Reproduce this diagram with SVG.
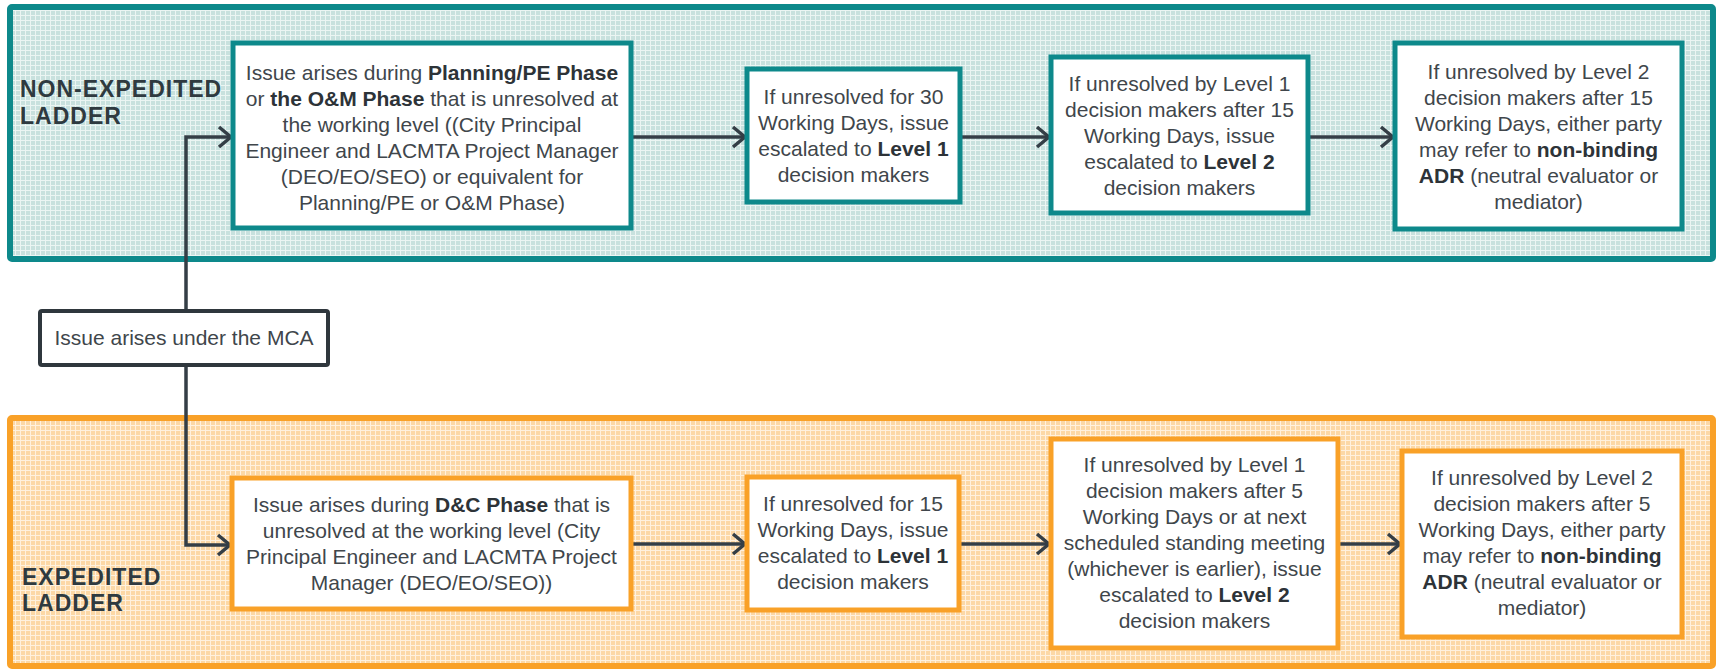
<svg xmlns="http://www.w3.org/2000/svg" width="1716" height="669" viewBox="0 0 1716 669">
<defs>
<pattern id="tealTex" width="5" height="5" patternUnits="userSpaceOnUse"><rect width="5" height="5" fill="#c8e1de"/><path d="M0,0.5H5M0.5,0V5" stroke="#ebf5f3" stroke-width="1"/></pattern>
<pattern id="orangeTex" width="5" height="5" patternUnits="userSpaceOnUse"><rect width="5" height="5" fill="#fcd8a6"/><path d="M0,0.5H5M0.5,0V5" stroke="#fff1de" stroke-width="1"/></pattern>
<marker id="arr" markerUnits="userSpaceOnUse" markerWidth="16" markerHeight="24" viewBox="0 0 16 24" refX="14" refY="12" orient="auto"><path d="M2,2 L14,12 L2,22" fill="none" stroke="#343e46" stroke-width="3.5" stroke-linejoin="miter"/></marker>
<style>
.panelT{fill:url(#tealTex);stroke:#0d898b;stroke-width:6}
.panelO{fill:url(#orangeTex);stroke:#f9a128;stroke-width:6}
.boxT{fill:#ffffff;stroke:#0d898b;stroke-width:5}
.boxO{fill:#ffffff;stroke:#f9a128;stroke-width:5}
.boxM{fill:#ffffff;stroke:#2f373d;stroke-width:4}
.t{font-family:"Liberation Sans",Arial,sans-serif;font-size:21px;fill:#40464b;text-anchor:middle}
.b{font-weight:bold;fill:#2d3338}
.lbl{font-family:"Liberation Sans",Arial,sans-serif;font-size:23px;font-weight:bold;fill:#2f3a40;letter-spacing:1px}
.c{fill:none;stroke:#343e46;stroke-width:3.5;marker-end:url(#arr)}
</style>
</defs>
<rect width="1716" height="669" fill="#ffffff"/>
<g id="panel-non-expedited">
<rect class="panelT" x="10" y="7" width="1703" height="252" rx="2"/>
<text class="lbl" x="20" y="97">NON-EXPEDITED</text>
<text class="lbl" x="20" y="124">LADDER</text>
</g>
<g id="panel-expedited">
<rect class="panelO" x="10" y="418" width="1703" height="248" rx="2"/>
<text class="lbl" x="22" y="585">EXPEDITED</text>
<text class="lbl" x="22" y="611">LADDER</text>
</g>
<g id="connectors">
<path class="c" d="M186,311 V137 H231"/>
<path class="c" d="M186,365 V545 H230"/>
<path class="c" d="M631,137 H745"/>
<path class="c" d="M960,137 H1049"/>
<path class="c" d="M1308,137 H1393"/>
<path class="c" d="M631,544 H745"/>
<path class="c" d="M959,544 H1049"/>
<path class="c" d="M1338,544 H1400"/>
</g>
<g id="node-mca">
<rect class="boxM" x="40" y="311" width="288" height="54" rx="2"/>
<text class="t" x="184" y="345">Issue arises under the MCA</text>
</g>
<g id="node-ne1">
<rect class="boxT" x="233" y="43" width="398" height="185"/>
<text class="t" x="432" y="80">Issue arises during <tspan class="b">Planning/PE Phase</tspan></text>
<text class="t" x="432" y="106">or <tspan class="b">the O&amp;M Phase</tspan> that is unresolved at</text>
<text class="t" x="432" y="132">the working level ((City Principal</text>
<text class="t" x="432" y="158">Engineer and LACMTA Project Manager</text>
<text class="t" x="432" y="184">(DEO/EO/SEO) or equivalent for</text>
<text class="t" x="432" y="210">Planning/PE or O&amp;M Phase)</text>
</g>
<g id="node-ne2">
<rect class="boxT" x="747" y="69" width="213" height="133"/>
<text class="t" x="853.5" y="104">If unresolved for 30</text>
<text class="t" x="853.5" y="130">Working Days, issue</text>
<text class="t" x="853.5" y="156">escalated to <tspan class="b">Level 1</tspan></text>
<text class="t" x="853.5" y="182">decision makers</text>
</g>
<g id="node-ne3">
<rect class="boxT" x="1051" y="57" width="257" height="156"/>
<text class="t" x="1179.5" y="91">If unresolved by Level 1</text>
<text class="t" x="1179.5" y="117">decision makers after 15</text>
<text class="t" x="1179.5" y="143">Working Days, issue</text>
<text class="t" x="1179.5" y="169">escalated to <tspan class="b">Level 2</tspan></text>
<text class="t" x="1179.5" y="195">decision makers</text>
</g>
<g id="node-ne4">
<rect class="boxT" x="1395" y="43" width="287" height="186"/>
<text class="t" x="1538.5" y="79">If unresolved by Level 2</text>
<text class="t" x="1538.5" y="105">decision makers after 15</text>
<text class="t" x="1538.5" y="131">Working Days, either party</text>
<text class="t" x="1538.5" y="157">may refer to <tspan class="b">non-binding</tspan></text>
<text class="t" x="1538.5" y="183"><tspan class="b">ADR</tspan> (neutral evaluator or</text>
<text class="t" x="1538.5" y="209">mediator)</text>
</g>
<g id="node-e1">
<rect class="boxO" x="232" y="478" width="399" height="131"/>
<text class="t" x="431.5" y="512">Issue arises during <tspan class="b">D&amp;C Phase</tspan> that is</text>
<text class="t" x="431.5" y="538">unresolved at the working level (City</text>
<text class="t" x="431.5" y="564">Principal Engineer and LACMTA Project</text>
<text class="t" x="431.5" y="590">Manager (DEO/EO/SEO))</text>
</g>
<g id="node-e2">
<rect class="boxO" x="747" y="477" width="212" height="133"/>
<text class="t" x="853" y="511">If unresolved for 15</text>
<text class="t" x="853" y="537">Working Days, issue</text>
<text class="t" x="853" y="563">escalated to <tspan class="b">Level 1</tspan></text>
<text class="t" x="853" y="589">decision makers</text>
</g>
<g id="node-e3">
<rect class="boxO" x="1051" y="439" width="287" height="209"/>
<text class="t" x="1194.5" y="472">If unresolved by Level 1</text>
<text class="t" x="1194.5" y="498">decision makers after 5</text>
<text class="t" x="1194.5" y="524">Working Days or at next</text>
<text class="t" x="1194.5" y="550">scheduled standing meeting</text>
<text class="t" x="1194.5" y="576">(whichever is earlier), issue</text>
<text class="t" x="1194.5" y="602">escalated to <tspan class="b">Level 2</tspan></text>
<text class="t" x="1194.5" y="628">decision makers</text>
</g>
<g id="node-e4">
<rect class="boxO" x="1402" y="451" width="280" height="186"/>
<text class="t" x="1542" y="485">If unresolved by Level 2</text>
<text class="t" x="1542" y="511">decision makers after 5</text>
<text class="t" x="1542" y="537">Working Days, either party</text>
<text class="t" x="1542" y="563">may refer to <tspan class="b">non-binding</tspan></text>
<text class="t" x="1542" y="589"><tspan class="b">ADR</tspan> (neutral evaluator or</text>
<text class="t" x="1542" y="615">mediator)</text>
</g>
</svg>
